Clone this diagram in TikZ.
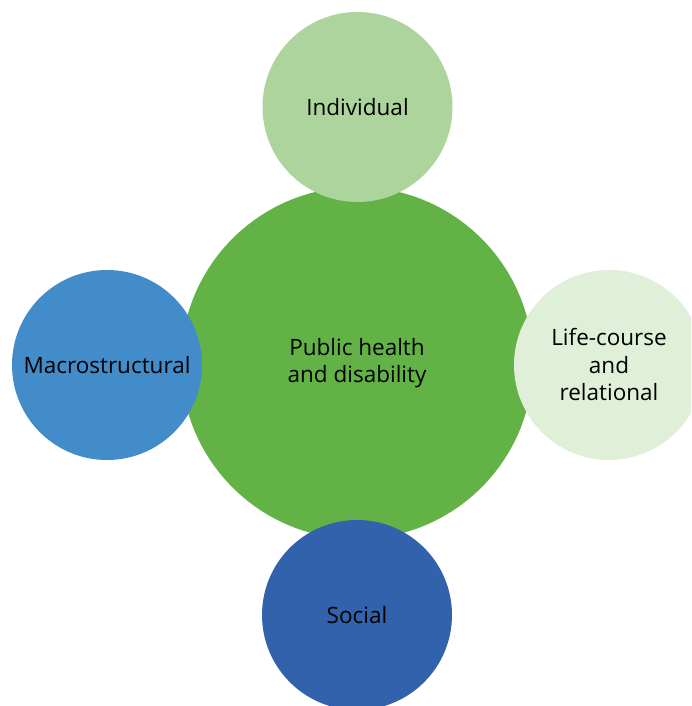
\documentclass[tikz,border=0pt]{standalone}
\usepackage{fontspec}
\setmainfont{Open Sans}
\definecolor{cmain}{HTML}{62B246}
\definecolor{ctop}{HTML}{ADD49C}
\definecolor{cleft}{HTML}{438CCA}
\definecolor{cright}{HTML}{E0EFD8}
\definecolor{cbot}{HTML}{3362AD}
\begin{document}
\begin{tikzpicture}[x=1pt,y=1pt,
  bubble/.style={circle,inner sep=0pt,minimum size=190pt,align=center,font=\fontsize{22.5}{27.5}\selectfont,text=black}]
\useasboundingbox (0,0) rectangle (691,706);
\begin{scope}
\clip (0,0) rectangle (691,706);
\node[bubble,fill=cmain,minimum size=352pt] (c) at (357,343) {Public health\\and disability};
\node[bubble,fill=ctop] (t) at (357.5,599) {Individual};
\node[bubble,fill=cleft] (l) at (107,341) {Macrostructural};
\node[bubble,fill=cright] (r) at (609,341) {Life-course\\and\\relational};
\node[bubble,fill=cbot] (b) at (357,91) {Social};
\end{scope}
\end{tikzpicture}
\end{document}
